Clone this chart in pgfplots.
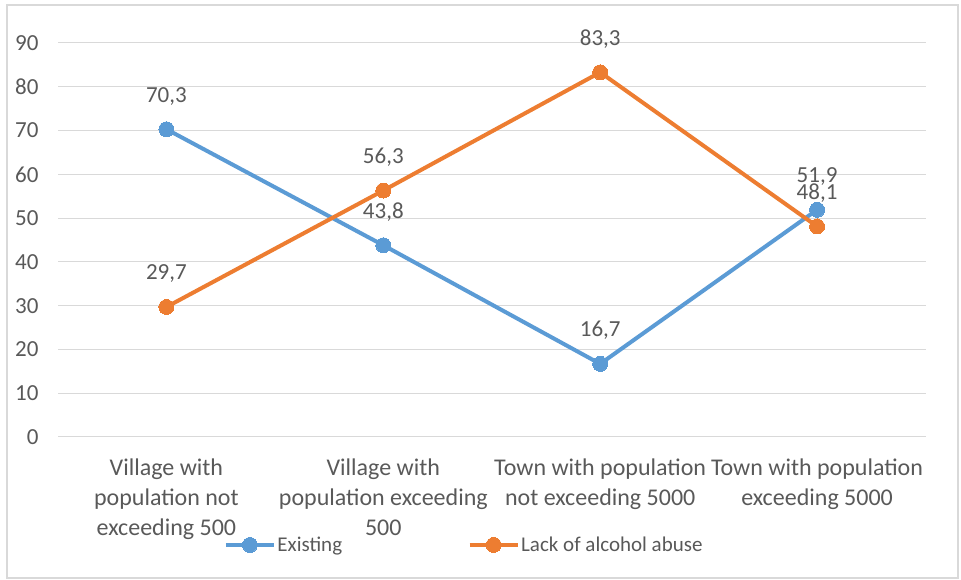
\documentclass[border=0pt]{standalone}
\usepackage{fontspec}
\setmainfont{Carlito}
\usepackage{pgfplots}
\pgfplotsset{compat=1.18}
\definecolor{exblue}{RGB}{91,155,213}
\definecolor{lkorange}{RGB}{237,125,49}
\definecolor{txtgray}{RGB}{89,89,89}
\definecolor{gridgray}{RGB}{217,217,217}
\begin{document}
\begin{tikzpicture}[x=1bp,y=1bp]
\useasboundingbox (0,0) rectangle (961,580);
\draw[gridgray, line width=1.5bp] (7,2) rectangle (958,575);
\begin{axis}[
    at={(58bp,143bp)}, anchor=south west,
    scale only axis, width=867.5bp, height=394bp,
    xmin=-0.5, xmax=3.5, ymin=0, ymax=90,
    xtick={0,1,2,3},
    xticklabels={{Village with\\population not\\exceeding 500},
                 {Village with\\population exceeding\\500},
                 {Town with population\\not exceeding 5000},
                 {Town with population\\exceeding 5000}},
    ytick={0,10,...,90},
    ymajorgrids, grid style={gridgray, line width=1bp},
    axis line style={draw=none},
    major tick length=0pt,
    clip=false,
    tick label style={font=\fontsize{23bp}{30bp}\selectfont, text=txtgray},
    xticklabel style={font=\fontsize{24bp}{30bp}\selectfont},
    /pgf/number format/assume math mode=true,
    xticklabel style={align=center, anchor=north, yshift=-18bp},
    yticklabel style={xshift=-16bp},
    nodes near coords,
    nodes near coords style={/pgf/number format/fixed,
        /pgf/number format/fixed zerofill,
        /pgf/number format/precision=1,
        /pgf/number format/use comma,
        anchor=base, yshift=27bp, inner sep=0pt,
        font=\fontsize{23bp}{26bp}\selectfont, text=txtgray},
    legend columns=2,
    legend style={at={(0.468,-0.274)}, anchor=center, draw=none, fill=none,
        font=\fontsize{21bp}{25bp}\selectfont, text=txtgray,
        /tikz/every even column/.append style={column sep=124bp},
        nodes={inner sep=1.5bp}},
    legend image code/.code={\draw[mark repeat=2, mark phase=2, #1]
        plot coordinates {(0bp,0bp) (24bp,0bp) (48bp,0bp)};},
]
\addplot[exblue, line width=4bp, mark=*, mark size=7.5bp,
    mark options={fill=exblue, draw=exblue, line width=0pt}]
    coordinates {(0,70.3) (1,43.8) (2,16.7) (3,51.9)};
\addplot[lkorange, line width=4bp, mark=*, mark size=7.5bp,
    mark options={fill=lkorange, draw=lkorange, line width=0pt}]
    coordinates {(0,29.7) (1,56.3) (2,83.3) (3,48.1)};
\legend{Existing, Lack of alcohol abuse}
\end{axis}
\end{tikzpicture}
\end{document}
